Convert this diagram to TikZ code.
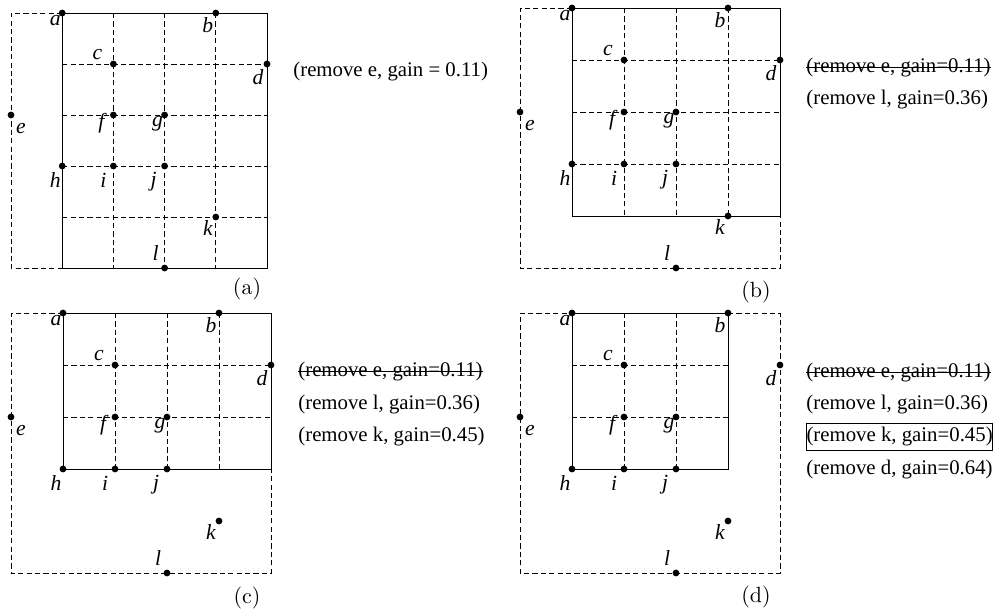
\documentclass[tikz,border=0pt]{standalone}
\usepackage{fontspec}
\setmainfont{Liberation Serif}
\newfontfamily\lmfont{lmroman10-regular}[Extension=.otf]
\newcommand\gpt[5]{\node[dot,label={[lbl,xshift={0.5pt*(#4)},yshift={-0.5pt*(#5)}]center:#3}] (#1) at (#2) {};}
\newcommand\alldots[1]{%
  \gpt{#1a}{#110}{a}{-7}{8}%
  \gpt{#1b}{#140}{b}{-8}{12}%
  \gpt{#1c}{#121}{c}{-16}{-9}%
  \gpt{#1d}{#151}{d}{-9}{13}%
  \gpt{#1e}{#102}{e}{10}{14}%
  \gpt{#1f}{#122}{f}{-12}{8}%
  \gpt{#1g}{#132}{g}{-7}{9}%
  \gpt{#1h}{#113}{h}{-7}{14}%
  \gpt{#1i}{#123}{i}{-10}{14}%
  \gpt{#1j}{#133}{j}{-11}{16}%
  \gpt{#1k}{#144}{k}{-8}{11}%
  \gpt{#1l}{#135}{l}{-9}{-15}%
}
\begin{document}
\begin{tikzpicture}[x=0.5pt,y=-0.5pt,
  dot/.style={circle,fill=black,inner sep=0pt,minimum size=3.4pt},
  solidline/.style={line width=0.5pt},
  dashline/.style={line width=0.45pt,dash pattern=on 2.6pt off 1.6pt},
  lbl/.style={font=\fontsize{10.8}{12}\selectfont\itshape,inner sep=0pt},
  txt/.style={font=\fontsize{10.4}{12}\selectfont,anchor=west,inner sep=0pt},
  strike/.style={line width=0.45pt},
  captxt/.style={font=\lmfont\fontsize{11}{12}\selectfont,inner sep=0pt}]
\useasboundingbox (0,0) rectangle (995,612);
% grid coordinates
\foreach \i in {0,...,5}{\foreach \j in {0,...,5}{%
  \coordinate (A\i\j) at ({11+51.2*\i},{13+51*\j});
  \coordinate (B\i\j) at ({520+52*\i},{8+52*\j});
  \coordinate (C\i\j) at ({11+52*\i},{313+52*\j});
  \coordinate (D\i\j) at ({520+52*\i},{313+52*\j});
}}
% ---------- panel (a)
\draw[dashline] (A10) -- (A00) -- (A05) -- (A15);
\foreach \i in {2,3,4} \draw[dashline] (A\i0) -- (A\i5);
\foreach \j in {1,...,4} \draw[dashline] (A1\j) -- (A5\j);
\draw[solidline] (A10) rectangle (A55);
\alldots{A}
\node[txt] (ta1) at (293,72) {(remove e, gain = 0.11)};
\node[captxt] (capa) at (247,289) {(a)};
% ---------- panel (b)
\draw[dashline] (B10) -- (B00) -- (B05) -- (B55) -- (B54);
\foreach \i in {2,3,4} \draw[dashline] (B\i0) -- (B\i4);
\foreach \j in {1,2,3} \draw[dashline] (B1\j) -- (B5\j);
\draw[solidline] (B10) rectangle (B54);
\alldots{B}
\node[txt] (tb1) at (806,68) {(remove e, gain=0.11)};
\node[txt] (tb2) at (806,100) {(remove l, gain=0.36)};
\draw[strike] ([yshift=2.8pt]tb1.base west) -- ([yshift=2.8pt]tb1.base east);
\node[captxt] (capb) at (756,292) {(b)};
% ---------- panel (c)
\draw[dashline] (C10) -- (C00) -- (C05) -- (C55) -- (C53);
\foreach \i in {2,3,4} \draw[dashline] (C\i0) -- (C\i3);
\foreach \j in {1,2} \draw[dashline] (C1\j) -- (C5\j);
\draw[solidline] (C10) rectangle (C53);
\alldots{C}
\node[txt] (tc1) at (298,372) {(remove e, gain=0.11)};
\node[txt] (tc2) at (298,405) {(remove l, gain=0.36)};
\node[txt] (tc3) at (298,437) {(remove k, gain=0.45)};
\draw[strike] ([yshift=2.8pt]tc1.base west) -- ([yshift=2.8pt]tc1.base east);
\node[captxt] (capc) at (247,598) {(c)};
% ---------- panel (d)
\draw[dashline] (D40) -- (D50) -- (D55) -- (D05) -- (D00) -- (D10);
\foreach \i in {2,3} \draw[dashline] (D\i0) -- (D\i3);
\foreach \j in {1,2} \draw[dashline] (D1\j) -- (D4\j);
\draw[solidline] (D10) rectangle (D43);
\alldots{D}
\node[txt] (td1) at (806,373) {(remove e, gain=0.11)};
\node[txt] (td2) at (806,405) {(remove l, gain=0.36)};
\node[txt,draw=black,line width=0.5pt,inner ysep=2pt] (td3) at (806,437) {(remove k, gain=0.45)};
\node[txt] (td4) at (806,470) {(remove d, gain=0.64)};
\draw[strike] ([yshift=2.8pt]td1.base west) -- ([yshift=2.8pt]td1.base east);
\node[captxt] (capd) at (756,597) {(d)};
\end{tikzpicture}
\end{document}
